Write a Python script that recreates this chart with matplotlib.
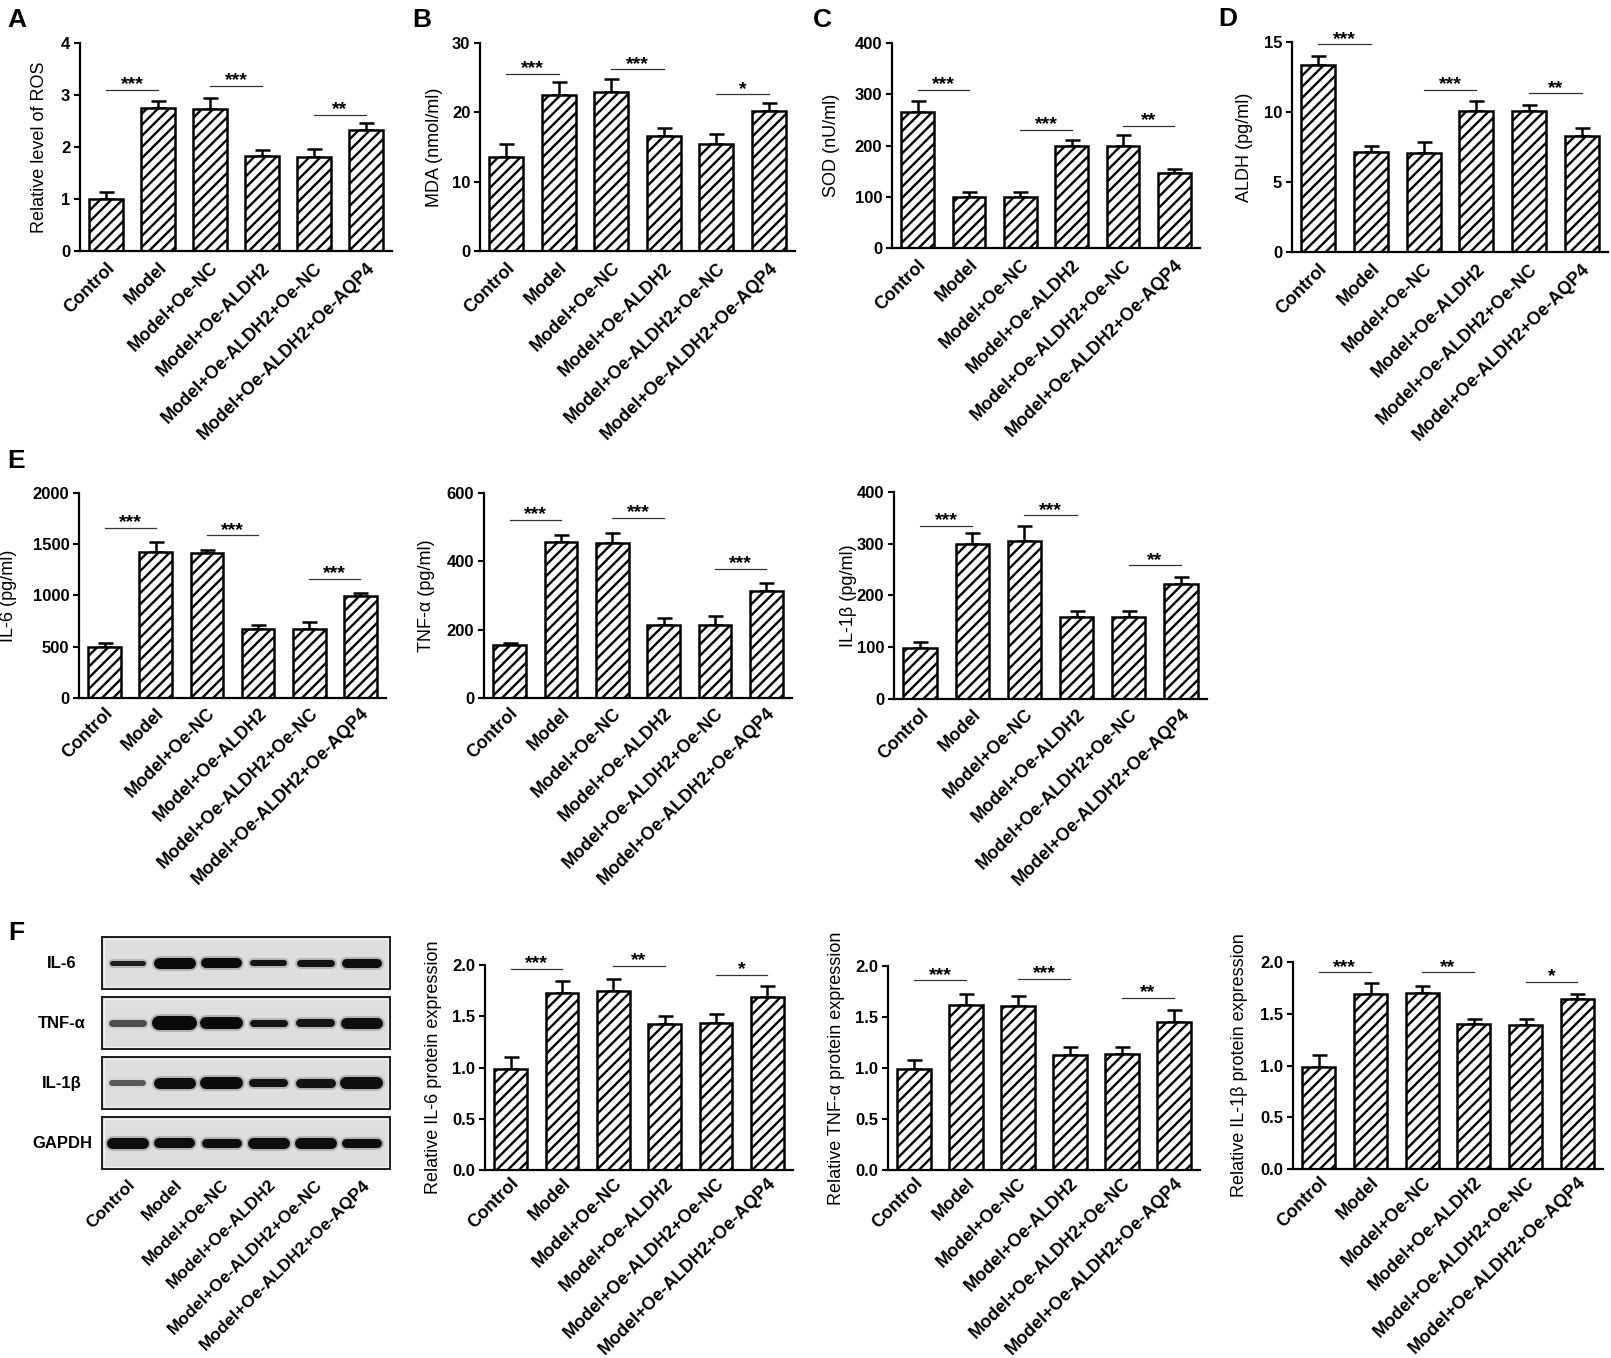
import numpy as np
import matplotlib.pyplot as plt
from matplotlib.patches import Rectangle

plt.rcParams['font.family'] = ['Liberation Sans', 'DejaVu Sans']
plt.rcParams['hatch.linewidth'] = 1.7

W, H = 1611, 1358

groups = ['Control', 'Model', 'Model+Oe-NC', 'Model+Oe-ALDH2',
          'Model+Oe-ALDH2+Oe-NC', 'Model+Oe-ALDH2+Oe-AQP4']

# A - ROS
ros_mean = [1.0, 2.75, 2.73, 1.83, 1.81, 2.33]
ros_err = [0.14, 0.14, 0.21, 0.11, 0.15, 0.13]
ros_sig = [3.1, 3.17, 2.62]
ros_stars = ['***', '***', '**']

# B - MDA
mda_mean = [13.6, 22.5, 23.0, 16.6, 15.5, 20.2]
mda_err = [1.9, 1.9, 1.8, 1.1, 1.4, 1.1]
mda_sig = [25.6, 26.2, 22.6]
mda_stars = ['***', '***', '*']

# C - SOD
sod_mean = [265, 99.5, 99.5, 200, 200, 146]
sod_err = [22, 10, 10, 11, 20, 9]
sod_sig = [308, 231, 239]
sod_stars = ['***', '***', '**']

# D - ALDH
aldh_mean = [13.38, 7.12, 7.07, 10.05, 10.1, 8.3]
aldh_err = [0.62, 0.43, 0.76, 0.75, 0.4, 0.56]
aldh_sig = [14.83, 11.57, 11.33]
aldh_stars = ['***', '***', '**']

# E - ELISA
il6_mean = [494, 1421, 1415, 676, 676, 992]
il6_err = [43, 101, 32, 39, 62, 32]
il6_sig = [1659, 1587, 1161]
il6_stars = ['***', '***', '***']

tnf_mean = [154, 457, 455, 215, 213, 313]
tnf_err = [7, 21, 27, 19, 26, 24]
tnf_sig = [522, 527, 379]
tnf_stars = ['***', '***', '***']

il1b_mean = [98, 300, 306, 159, 158, 222]
il1b_err = [13, 20, 28, 12, 12, 14]
il1b_sig = [335, 355, 258]
il1b_stars = ['***', '***', '**']

# F - western blot quantification
p_il6_mean = [0.99, 1.73, 1.75, 1.42, 1.43, 1.69]
p_il6_err = [0.11, 0.11, 0.11, 0.08, 0.09, 0.11]
p_il6_sig = [1.96, 1.99, 1.90]
p_il6_stars = ['***', '**', '*']

p_tnf_mean = [0.99, 1.62, 1.61, 1.13, 1.14, 1.45]
p_tnf_err = [0.09, 0.11, 0.10, 0.08, 0.07, 0.12]
p_tnf_sig = [1.86, 1.87, 1.69]
p_tnf_stars = ['***', '***', '**']

p_il1b_mean = [0.99, 1.69, 1.70, 1.40, 1.39, 1.64]
p_il1b_err = [0.11, 0.11, 0.07, 0.05, 0.06, 0.05]
p_il1b_sig = [1.90, 1.90, 1.81]
p_il1b_stars = ['***', '**', '*']

# blot bands: thickness (px) and grey level per lane
blot_rows = ['IL-6', 'TNF-α', 'IL-1β', 'GAPDH']
band_thick = [[5, 11, 10, 6, 7, 9],
              [7, 14, 12, 7, 8, 11],
              [6, 11, 12, 8, 9, 12],
              [11, 10, 9, 11, 11, 9]]
band_grey = [[0.12, 0.04, 0.04, 0.08, 0.08, 0.05],
             [0.30, 0.04, 0.04, 0.08, 0.08, 0.05],
             [0.35, 0.05, 0.04, 0.08, 0.08, 0.05],
             [0.05, 0.05, 0.05, 0.05, 0.05, 0.05]]

fig = plt.figure(figsize=(W / 100, H / 100), dpi=100)


def px_axes(x0, x1, yt, yb):
    return fig.add_axes([x0 / W, 1 - yb / H, (x1 - x0) / W, (yb - yt) / H])


def bar_panel(rect, means, errs, ymax, step, ylabel, lab_off, sig_y, stars, fmt='{:g}', xpad=6):
    x0, x1, yt, yb = rect
    ax = px_axes(x0, x1, yt, yb)
    x = np.arange(len(groups))
    ax.errorbar(x, means, yerr=[np.zeros(len(errs)), errs], fmt='none', ecolor='black',
                elinewidth=1.8, capsize=5.4, capthick=1.8, zorder=1)
    ax.bar(x, means, width=0.64, color='white', edgecolor='black', linewidth=1.8,
           hatch='///', zorder=2)
    for k, (yy, st) in enumerate(zip(sig_y, stars)):
        a, b = 2 * k, 2 * k + 1
        ax.plot([a, b], [yy, yy], color='#333333', lw=0.9, zorder=3, clip_on=False)
        ax.annotate(st, xy=((a + b) / 2, yy), xytext=(0, 0.5), textcoords='offset points',
                    ha='center', va='baseline', fontsize=14, fontweight='bold',
                    annotation_clip=False)
    ax.set_xlim(-0.5, 5.5)
    ax.set_ylim(0, ymax)
    ticks = np.arange(0, ymax + step / 2, step)
    ax.set_yticks(ticks, [fmt.format(t) for t in ticks], fontsize=12, fontweight='bold')
    ax.set_xticks(x, groups, rotation=45, ha='right', rotation_mode='anchor',
                  fontsize=13, fontweight='bold')
    ax.tick_params(axis='x', length=0, pad=xpad)
    ax.tick_params(axis='y', length=4.5, width=1.5, direction='out', pad=2.5)
    for s in ['top', 'right']:
        ax.spines[s].set_visible(False)
    for s in ['left', 'bottom']:
        ax.spines[s].set_linewidth(1.6)
    ax.set_ylabel(ylabel, fontsize=13)
    ax.yaxis.set_label_coords(-lab_off / (x1 - x0), 0.5)
    return ax


bar_panel((80, 392, 43, 251), ros_mean, ros_err, 4, 1, 'Relative level of ROS', 32, ros_sig, ros_stars)
bar_panel((480, 795, 43, 251), mda_mean, mda_err, 30, 10, 'MDA (nmol/ml)', 37, mda_sig, mda_stars)
bar_panel((892, 1200, 43, 248), sod_mean, sod_err, 400, 100, 'SOD (nU/ml)', 52, sod_sig, sod_stars)
bar_panel((1292, 1608, 42, 252), aldh_mean, aldh_err, 15, 5, 'ALDH (pg/ml)', 39, aldh_sig, aldh_stars)

bar_panel((79, 386, 493, 698), il6_mean, il6_err, 2000, 500, 'IL-6 (pg/ml)', 62, il6_sig, il6_stars,
          xpad=5)
bar_panel((484, 792, 493, 698), tnf_mean, tnf_err, 600, 200, 'TNF-α (pg/ml)', 49, tnf_sig, tnf_stars,
          xpad=5)
bar_panel((894, 1207, 492, 699), il1b_mean, il1b_err, 400, 100, 'IL-1β (pg/ml)', 37, il1b_sig, il1b_stars,
          xpad=5)

bar_panel((485, 793, 965, 1170), p_il6_mean, p_il6_err, 2.0, 0.5, 'Relative IL-6 protein expression',
          43, p_il6_sig, p_il6_stars, fmt='{:.1f}', xpad=3.5)
bar_panel((888, 1200, 966, 1170), p_tnf_mean, p_tnf_err, 2.0, 0.5, 'Relative TNF-α protein expression',
          43, p_tnf_sig, p_tnf_stars, fmt='{:.1f}', xpad=3.5)
bar_panel((1293, 1603, 962, 1169), p_il1b_mean, p_il1b_err, 2.0, 0.5, 'Relative IL-1β protein expression',
          45, p_il1b_sig, p_il1b_stars, fmt='{:.1f}', xpad=3.5)

# western blot
bax = px_axes(102, 390, 935, 1170)
bax.set_xlim(-0.55, 5.6)
bax.set_ylim(3.45, -0.467)
for i, name in enumerate(blot_rows):
    bax.add_patch(Rectangle((-0.55, i - 0.433), 6.15, 0.866, facecolor='#dedede',
                            edgecolor='#1a1a1a', lw=1.4, clip_on=False, zorder=1))
    bax.add_patch(Rectangle((-0.50, i - 0.40), 6.05, 0.80, facecolor='none',
                            edgecolor='#f2f2f2', lw=0.8, clip_on=False, zorder=1))
    for j in range(6):
        t = band_thick[i][j]
        g = band_grey[i][j]
        bax.plot([j - 0.33, j + 0.33], [i, i], lw=(t + 4) * 0.72, color=str(min(g + 0.45, 0.9)),
                 alpha=0.45, solid_capstyle='round', zorder=2)
        bax.plot([j - 0.33, j + 0.33], [i, i], lw=t * 0.72, color=str(g),
                 solid_capstyle='round', zorder=3)
    bax.text(-1.405, i, name, ha='center', va='center', fontsize=12, fontweight='bold')
bax.set_xticks(np.arange(6), groups, rotation=45, ha='right', rotation_mode='anchor',
               fontsize=12.5, fontweight='bold')
bax.set_yticks([])
bax.tick_params(axis='x', length=0, pad=5)
for s in bax.spines.values():
    s.set_visible(False)
bax.set_facecolor('none')

# panel letters
for letter, xp, yp in [('A', 7, 27), ('B', 412, 27), ('C', 813, 27), ('D', 1218, 26),
                       ('E', 7, 468), ('F', 8, 940)]:
    fig.text(xp / W, 1 - yp / H, letter, fontsize=19, fontweight='bold', ha='left', va='baseline')

fig.savefig('out.png', dpi=100)
